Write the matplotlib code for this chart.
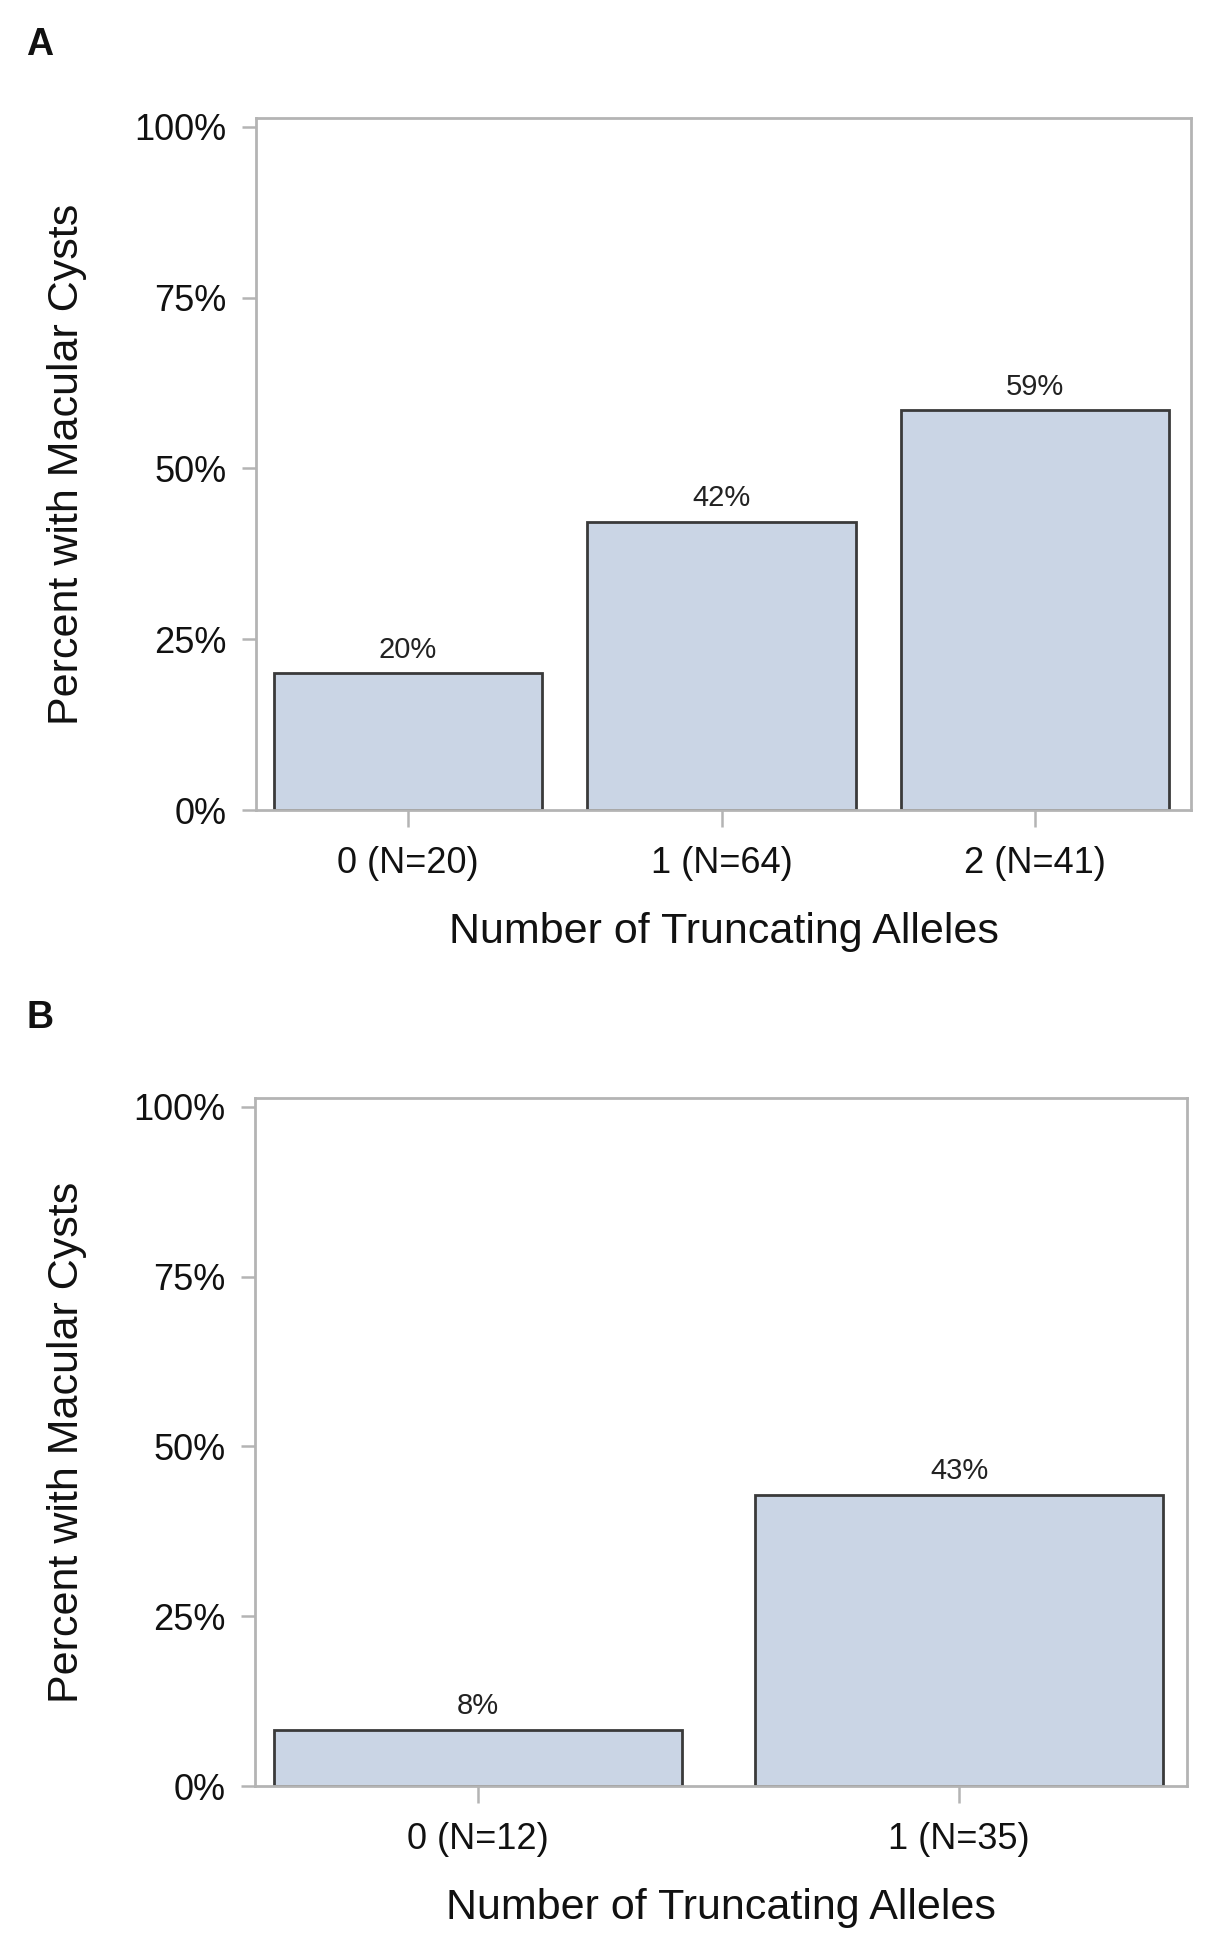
import matplotlib
matplotlib.use("Agg")
import matplotlib.pyplot as plt

plt.rcParams['font.family'] = ['Liberation Sans', 'DejaVu Sans']

# Panel A data
cats_a = ["0 (N=20)", "1 (N=64)", "2 (N=41)"]
vals_a = [20.0, 42.2, 58.5]
labels_a = ["20%", "42%", "59%"]

# Panel B data
cats_b = ["0 (N=12)", "1 (N=35)"]
vals_b = [8.3, 42.9]
labels_b = ["8%", "43%"]

yticks = [0, 25, 50, 75, 100]
ytick_labels = ["0%", "25%", "50%", "75%", "100%"]

BAR_FILL = "#cad5e5"
BAR_EDGE = "#3a3a3a"
FRAME = "#b4b4b4"

fig = plt.figure(figsize=(12.15, 19.5), dpi=100)

def panel(rect, cats, vals, labels, xlim, width, letter, letter_y):
    ax = fig.add_axes(rect)
    x = list(range(len(cats)))
    ax.bar(x, vals, width=width, color=BAR_FILL, edgecolor=BAR_EDGE, linewidth=2.0, zorder=2)
    for xi, v, lab in zip(x, vals, labels):
        ax.annotate(lab, (xi, v), xytext=(0, 7), textcoords="offset points",
                    ha="center", va="bottom", fontsize=21, color="#222222")
    ax.set_xlim(*xlim)
    ax.set_ylim(0, 101.3)
    ax.set_yticks(yticks)
    ax.set_yticklabels(ytick_labels)
    ax.set_xticks(x)
    ax.set_xticklabels(cats)
    for s in ax.spines.values():
        s.set_color(FRAME)
        s.set_linewidth(2.0)
    ax.tick_params(axis="both", direction="out", width=1.8, color=FRAME,
                   labelsize=26, labelcolor="#111111")
    ax.tick_params(axis="x", length=12, pad=14)
    ax.tick_params(axis="y", length=10, pad=11)
    ax.set_xlabel("Number of Truncating Alleles", fontsize=31, labelpad=22, color="#111111")
    ax.set_ylabel("Percent with Macular Cysts", fontsize=31, labelpad=34, color="#111111")
    fig.text(40 / 1215, 1 - letter_y / 1950, letter, fontsize=27, fontweight="bold",
             ha="center", va="center", color="#111111")
    return ax

panel([0.2107, 0.5846, 0.7695, 0.3549], cats_a, vals_a, labels_a, (-0.485, 2.497), 0.857, "A", 45)
panel([0.2099, 0.0841, 0.7671, 0.3528], cats_b, vals_b, labels_b, (-0.462, 1.473), 0.847, "B", 1018)

fig.savefig("out.png", dpi=100, facecolor="white")
